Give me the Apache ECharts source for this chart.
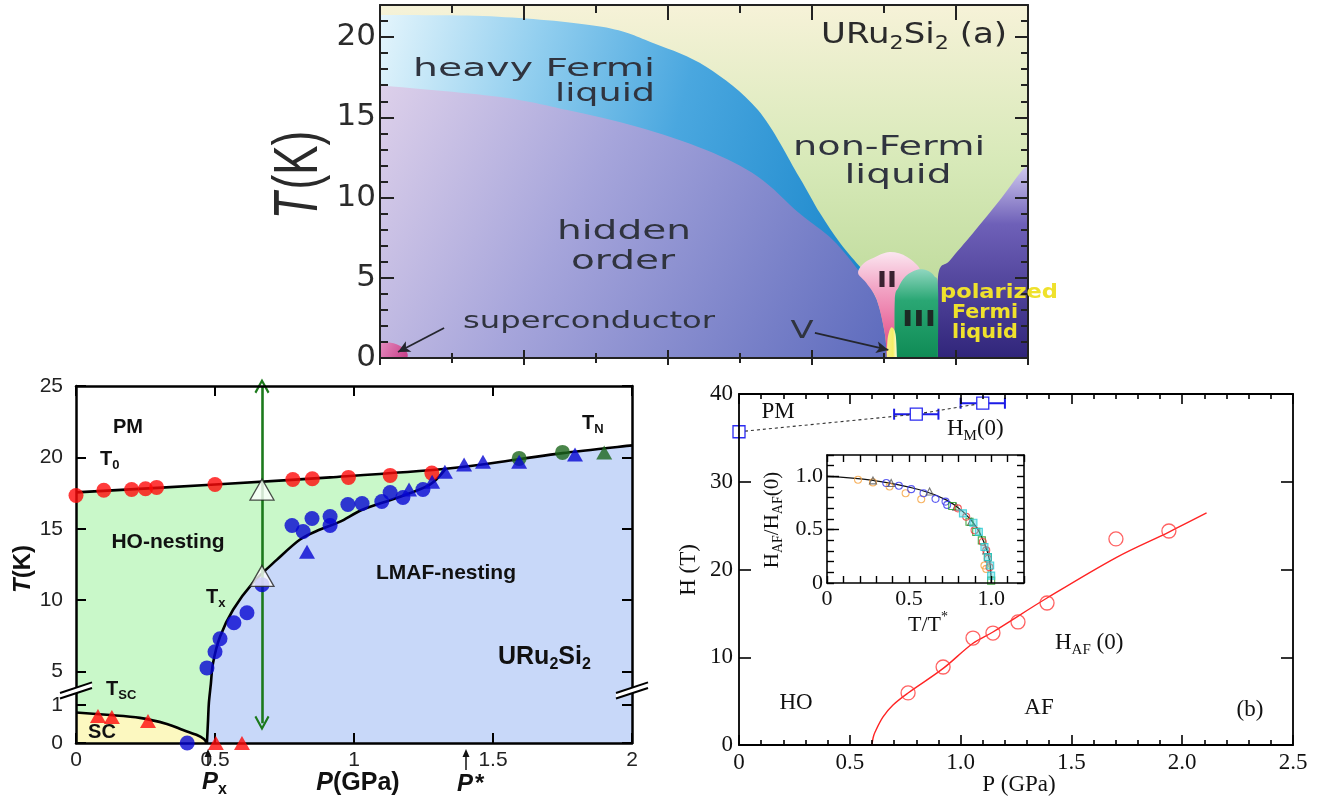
<!DOCTYPE html>
<html>
<head>
<meta charset="utf-8">
<title>URu2Si2 phase diagrams</title>
<script src="https://cdn.jsdelivr.net/npm/echarts@6.0.0/dist/echarts.min.js"></script>
<style>
  html, body { margin: 0; padding: 0; background: #ffffff; }
  #chart { width: 1318px; height: 803px; }
</style>
</head>
<body>
<div id="chart"></div>
<script>
// ---------------------------------------------------------------------------
// Panel (a): schematic T–p phase diagram (pressure in arbitrary units 0–9, T in K)
// ---------------------------------------------------------------------------
const aHeavyFermiTop = [[0,21.37],[1.64,21.27],[3.08,20.64],[3.81,19.6],[4.53,18.15],[5.25,15.45],[5.82,11.3],[6.11,9.03],[6.39,7.17],[6.67,5.67]];
const aHiddenOrderTop = [[0,17.0],[1.64,16.28],[2.6,15.45],[3.57,14.41],[4.53,12.96],[5.25,11.3],[5.82,9.03],[6.29,7.35],[6.67,5.3],[6.9,3.61],[7.01,1.56],[7.04,0]];
const aPhaseII = [[7.04,0],[7.01,1.56],[6.9,3.61],[6.75,4.7],[6.64,5.3],[6.72,5.9],[6.85,6.23],[7.08,6.6],[7.32,6.3],[7.5,5.48],[7.3,5.0],[7.19,4.05],[7.15,2.5],[7.15,0]];
const aPhaseIII = [[7.15,0],[7.15,3.6],[7.2,4.4],[7.3,5.1],[7.46,5.5],[7.6,5.45],[7.7,5.1],[7.75,4.4],[7.75,0]];
const aPhaseV = [[7.04,0],[7.05,1.2],[7.1,1.9],[7.16,1.5],[7.18,0]];
const aPolarizedEdge = [[7.75,0],[7.75,5.05],[7.92,6.1],[8.24,7.8],[8.61,9.84],[8.92,11.7],[9,11.9]];
const aSuperconductor = [[0,0.9],[0.15,0.95],[0.3,0.7],[0.38,0.3],[0.38,0]];
const aArrowSC = [[0.89,1.87],[0.25,0.37]];
const aArrowV = [[6.04,1.56],[7.06,0.5]];

// ---------------------------------------------------------------------------
// Panel (c): T–P diagram, P in GPa, T in K (split temperature axis)
// ---------------------------------------------------------------------------
const cT0Points = [[0,17.33],[0.10,17.7],[0.20,17.75],[0.25,17.8],[0.29,17.9],[0.50,18.1],[0.78,18.45],[0.85,18.5],[0.98,18.6],[1.13,18.74],[1.28,18.9]];
const cTxPoints = [[0.40,0],[0.471,5.26],[0.50,6.39],[0.518,7.3],[0.568,8.42],[0.615,9.12],[0.669,11.09],[0.777,15.23],[0.817,14.81],[0.849,15.72],[0.914,15.86],[0.914,15.23],[0.978,16.70],[1.029,16.77],[1.10,16.91],[1.13,17.54],[1.176,17.19],[1.248,17.75]];
const cTNBlueTriangles = [[0.831,13.4],[1.198,17.75],[1.281,18.3],[1.327,19.0],[1.396,19.5],[1.464,19.7],[1.594,19.7],[1.795,20.2]];
const cTNGreenCircles = [[1.594,19.93],[1.75,20.35]];
const cTNGreenTriangles = [[1.90,20.35]];
const cTscTriangles = [[0.079,0.71],[0.129,0.68],[0.259,0.58],[0.503,0],[0.597,0]];
const cOpenTriangles = [[0.669,17.75],[0.669,11.7]];
const cUpperLine = [[0,17.55],[0.5,18.1],[0.914,18.6],[1.33,19.2],[1.586,19.85],[1.75,20.3],[2.0,20.84]];
const cTxLine = [[0.471,0],[0.475,0.6],[0.478,1.24],[0.485,3.5],[0.493,5.61],[0.518,7.44],[0.565,9.33],[0.637,11.23],[0.723,12.84],[0.806,14.25],[0.878,14.95],[0.95,15.5],[1.032,16.35],[1.155,17.17],[1.273,18.1],[1.33,19.2]];
const cScLine = [[0,0.80],[0.11,0.74],[0.23,0.66],[0.327,0.50],[0.385,0.34],[0.435,0.21],[0.46,0.105],[0.471,0]];
const cArrowP = 0.669;
const cArrowT = [25, 0.52];
const cYTickLabels = [0, 1, 5, 10, 15, 20, 25];

// ---------------------------------------------------------------------------
// Panel (b): H–P diagram, P in GPa, H in T; inset H_AF/H_AF(0) vs T/T*
// ---------------------------------------------------------------------------
const bHMPoints = [[0,35.7],[0.80,37.7],[1.10,38.95]];
const bHMErrors = [[0.80,37.7,0.70,0.90],[1.10,38.95,1.00,1.20]];
const bHAFPoints = [[0.763,5.93],[0.921,8.89],[1.056,12.19],[1.146,12.76],[1.259,14.02],[1.39,16.18],[1.701,23.48],[1.94,24.39]];
const bHAFLine = [[0.60,0],[0.605,0.8],[0.614,1.48],[0.65,3.2],[0.695,4.56],[0.763,5.93],[0.92,8.7],[1.056,11.6],[1.146,12.88],[1.39,16.75],[1.706,21.42],[1.94,24.27],[2.11,26.44]];
const insetCurve = [[0,1.0],[0.28,0.962],[0.564,0.874],[0.726,0.779],[0.828,0.669],[0.909,0.527],[0.959,0.369],[0.99,0.211],[1.0,0]];
const insetOrange = [[0.189,0.968],[0.28,0.943],[0.381,0.905],[0.479,0.842],[0.574,0.785],[0.959,0.164],[0.97,0.132]];
const insetBlue = [[0.361,0.937],[0.438,0.912],[0.513,0.88],[0.588,0.842],[0.661,0.789],[0.722,0.763],[0.732,0.732]];
const insetGray = [[0.28,0.962],[0.391,0.937],[0.625,0.858],[0.787,0.716],[0.878,0.574],[0.97,0.306]];
const insetGreen = [[0.763,0.722],[0.868,0.574],[0.909,0.479],[0.943,0.4],[0.98,0.243],[1.0,0.022]];
const insetRed = [[0.797,0.7],[0.848,0.621],[0.899,0.495],[0.949,0.385],[0.97,0.306],[0.98,0.227],[0.99,0.148]];
const insetCyan = [[0.828,0.653],[0.892,0.565],[0.925,0.479],[0.959,0.338],[0.98,0.243],[0.994,0.164],[1.0,0.069]];

// ---------------------------------------------------------------------------
// helpers
// ---------------------------------------------------------------------------
// split T axis of panel (c): 0–1 K expanded, 1–5 K compressed, linear above 5 K
const LOW_SCALE = 2.67;
function tDisp(t) {
  if (t >= 5) return t;
  if (t <= 1) return t * LOW_SCALE;
  return LOW_SCALE + (t - 1) * (5 - LOW_SCALE) / 4;
}
const toDisp = arr => arr.map(([p, t]) => [p, tDisp(t)]);
const cYTickDisp = cYTickLabels.map(tDisp);

function catmull(p) {
  let d = '';
  for (let i = 0; i < p.length - 1; i++) {
    const p0 = p[i - 1] || p[i], p1 = p[i], p2 = p[i + 1], p3 = p[i + 2] || p[i + 1];
    const c1 = [p1[0] + (p2[0] - p0[0]) / 6, p1[1] + (p2[1] - p0[1]) / 6];
    const c2 = [p2[0] - (p3[0] - p1[0]) / 6, p2[1] - (p3[1] - p1[1]) / 6];
    d += `C${c1[0].toFixed(2)},${c1[1].toFixed(2)} ${c2[0].toFixed(2)},${c2[1].toFixed(2)} ${p2[0].toFixed(2)},${p2[1].toFixed(2)}`;
  }
  return d;
}
function buildPath(segs, toPx, closed) {
  let d = '';
  segs.forEach((seg, k) => {
    const p = seg.pts.map(toPx);
    d += (k === 0 ? 'M' : 'L') + p[0][0].toFixed(2) + ',' + p[0][1].toFixed(2);
    if (seg.smooth && p.length > 2) d += catmull(p);
    else for (let i = 1; i < p.length; i++) d += 'L' + p[i][0].toFixed(2) + ',' + p[i][1].toFixed(2);
  });
  return closed ? d + 'Z' : d;
}
function pathSeries(xi, yi, segs, style, z, closed) {
  return {
    type: 'custom', xAxisIndex: xi, yAxisIndex: yi, silent: true, z: z, clip: true,
    data: [[0, 0]],
    renderItem: (params, api) => ({
      type: 'path',
      shape: { pathData: buildPath(segs, pt => api.coord(pt), closed) },
      style: style
    })
  };
}
const grad = (x0, y0, x1, y1, stops) =>
  new echarts.graphic.LinearGradient(x0, y0, x1, y1, stops.map(([o, c]) => ({ offset: o, color: c })));

// text helpers
const measureCtx = document.createElement('canvas').getContext('2d');
function textW(str, font) { measureCtx.font = font; return measureCtx.measureText(str).width; }

function plainText(str, x, y, o) {
  const el = {
    type: 'text', x: x, y: y, z: 100, silent: true,
    style: { text: str, font: o.font, fill: o.fill || '#000', align: o.align || 'center', verticalAlign: 'middle',
             textAlign: o.align || 'center', textVerticalAlign: 'middle' }
  };
  if (o.width) el.scaleX = o.width / textW(str, o.font);
  if (o.scaleX) el.scaleX = o.scaleX;
  if (o.rotation) el.rotation = o.rotation;
  if (o.scaleY) el.scaleY = o.scaleY;
  return el;
}
// a line of text pieces laid out left to right:
// key m = main, i = italic main, s = subscript, u = superscript
function compText(parts, x, y, o) {
  const F = o.size, f = Math.round(F * (o.subRatio || 0.65));
  const wt = o.weight || 'normal', fill = o.fill || '#000';
  const fontOf = k => (k === 'i' ? 'italic ' : 'normal ') + wt + ' ' + ((k === 's' || k === 'u') ? f : F) + 'px ' + o.family;
  let cursor = 0;
  const kids = parts.map(([t, k]) => {
    const font = fontOf(k);
    const dy = k === 's' ? 0.3 * F : (k === 'u' ? -0.36 * F : 0);
    const el = {
      type: 'text', x: cursor, y: dy, z: 100, silent: true,
      style: { text: t, font: font, fill: fill, align: 'left', verticalAlign: 'middle', textAlign: 'left', textVerticalAlign: 'middle' }
    };
    cursor += textW(t, font) + (o.gap || 0);
    return el;
  });
  const W = cursor - (o.gap || 0);
  const off = o.align === 'left' ? 0 : -W / 2;
  kids.forEach(k => { k.x += off; });
  const g = { type: 'group', x: x, y: y, z: 100, silent: true, children: kids };
  if (o.width) g.scaleX = o.width / W;
  if (o.scaleX) g.scaleX = o.scaleX;
  if (o.scaleY) g.scaleY = o.scaleY;
  if (o.rotation) g.rotation = o.rotation;
  return g;
}
function arrowUp(x, yTop, yBot, color) {
  return [
    { type: 'line', z: 100, silent: true, shape: { x1: x, y1: yBot, x2: x, y2: yTop + 4 }, style: { stroke: color, lineWidth: 1.5 } },
    { type: 'polygon', z: 100, silent: true, shape: { points: [[x, yTop], [x - 3.5, yTop + 8], [x + 3.5, yTop + 8]] }, style: { fill: color } }
  ];
}

// ---------------------------------------------------------------------------
// axes
// ---------------------------------------------------------------------------
function lineSt(color, width) { return { color: color, width: width }; }
function ax(o) {
  const a = {
    type: 'value', gridIndex: o.grid, position: o.position, min: o.min, max: o.max, z: 10,
    axisLine: { show: o.line !== false, onZero: false, lineStyle: lineSt(o.color, o.lw) },
    axisTick: { show: o.tick !== false, inside: o.inside !== false, length: o.tickLen || 8, lineStyle: lineSt(o.color, o.tw || o.lw) },
    minorTick: { show: !!o.minor, splitNumber: o.minor || 5, length: o.minorLen || 4, lineStyle: lineSt(o.color, o.tw || o.lw) },
    axisLabel: { show: !!o.label },
    splitLine: { show: false }, minorSplitLine: { show: false }
  };
  if (o.interval != null) a.interval = o.interval;
  if (o.tickValues) a.axisTick.customValues = o.tickValues;
  if (o.label) Object.assign(a.axisLabel, o.label);
  return a;
}

const serif = 'Liberation Serif';
const sans = 'Liberation Sans';
const dv = 'DejaVu Sans';
const inset01 = v => (Math.abs(v) < 1e-9 ? '0' : v.toFixed(1));

const xAxis = [
  // (a)
  ax({ grid: 0, position: 'bottom', min: 0, max: 9, interval: 2, minor: 2, color: '#222', lw: 2, tickLen: 8, minorLen: 5 }),
  ax({ grid: 0, position: 'bottom', min: 0, max: 9, interval: 2, minor: 2, color: '#222', lw: 2, line: false, inside: false, tickLen: 7, minorLen: 5 }),
  ax({ grid: 0, position: 'top', min: 0, max: 9, interval: 2, minor: 2, color: '#222', lw: 2, tickLen: 15, minorLen: 8 }),
  // (c)
  ax({ grid: 1, position: 'bottom', min: 0, max: 2, interval: 0.5, color: '#000', lw: 2.5, tw: 2, tickLen: 10,
       label: { fontFamily: sans, fontSize: 21, color: '#222', margin: 7 } }),
  ax({ grid: 1, position: 'top', min: 0, max: 2, interval: 0.5, color: '#000', lw: 2.5, tw: 2, tickLen: 10 }),
  // (b)
  ax({ grid: 2, position: 'bottom', min: 0, max: 2.5, interval: 0.5, minor: 5, color: '#000', lw: 1.8, tw: 1.6, tickLen: 10, minorLen: 5,
       label: { fontFamily: serif, fontSize: 23, color: '#111', margin: 6, formatter: v => (v === 0 ? '0' : v.toFixed(1)) } }),
  ax({ grid: 2, position: 'top', min: 0, max: 2.5, interval: 0.5, minor: 5, color: '#000', lw: 1.8, tw: 1.6, tickLen: 10, minorLen: 5 }),
  // inset
  ax({ grid: 3, position: 'bottom', min: 0, max: 1.2, interval: 0.1, color: '#000', lw: 1.6, tw: 1.4, tickLen: 7,
       label: { fontFamily: serif, fontSize: 22, color: '#111', margin: 5, customValues: [0, 0.5, 1.0], formatter: inset01 } }),
  ax({ grid: 3, position: 'top', min: 0, max: 1.2, interval: 0.1, color: '#000', lw: 1.6, tw: 1.4, tickLen: 7 })
];

const yAxis = [
  // (a)
  ax({ grid: 0, position: 'left', min: 0, max: 22, interval: 5, minor: 5, color: '#222', lw: 2, tickLen: 14, minorLen: 8,
       label: { fontFamily: dv, fontSize: 31, color: '#2b2b2b', margin: 4, showMaxLabel: false } }),
  ax({ grid: 0, position: 'right', min: 0, max: 22, interval: 5, minor: 5, color: '#222', lw: 2, tickLen: 13, minorLen: 7 }),
  // (c)
  ax({ grid: 1, position: 'left', min: 0, max: 25, color: '#000', lw: 2.5, tw: 2, tickLen: 10, tickValues: cYTickDisp,
       label: { fontFamily: sans, fontSize: 21, color: '#222', margin: 13, customValues: cYTickDisp,
                formatter: v => { let k = 0; cYTickDisp.forEach((d, i) => { if (Math.abs(d - v) < Math.abs(cYTickDisp[k] - v)) k = i; }); return String(cYTickLabels[k]); } } }),
  ax({ grid: 1, position: 'right', min: 0, max: 25, color: '#000', lw: 2.5, tw: 2, tickLen: 10, tickValues: cYTickDisp }),
  // (b)
  ax({ grid: 2, position: 'left', min: 0, max: 40, interval: 10, color: '#000', lw: 1.8, tw: 1.6, tickLen: 12,
       label: { fontFamily: serif, fontSize: 23, color: '#111', margin: 6 } }),
  ax({ grid: 2, position: 'right', min: 0, max: 40, interval: 10, color: '#000', lw: 1.8, tw: 1.6, tickLen: 12 }),
  // inset
  ax({ grid: 3, position: 'left', min: 0, max: 1.2, interval: 0.1, color: '#000', lw: 1.6, tw: 1.4, tickLen: 7,
       label: { fontFamily: serif, fontSize: 22, color: '#111', margin: 4, customValues: [0, 0.5, 1.0], formatter: inset01 } }),
  ax({ grid: 3, position: 'right', min: 0, max: 1.2, interval: 0.1, color: '#000', lw: 1.6, tw: 1.4, tickLen: 7 }),
  ax({ grid: 3, position: 'left', min: 0, max: 1.2, color: '#000', lw: 1.6, tw: 1.4, tickLen: 12, line: false, tickValues: [0.5, 1.0] })
];

// ---------------------------------------------------------------------------
// series
// ---------------------------------------------------------------------------
const series = [];

// (a) phase regions, drawn back to front
series.push(pathSeries(0, 0, [{ pts: [[0, 0], [0, 22], [9, 22], [9, 0]] }],
  { fill: grad(0, 0, 0, 1, [[0, '#f6f2d8'], [0.45, '#d7e9b8'], [1, '#b3d48e']]) }, 1, true));
series.push(pathSeries(0, 0, [{ pts: aHeavyFermiTop, smooth: true }, { pts: [[6.9, 3.61], [7.04, 0], [0, 0]] }],
  { fill: grad(0, 0, 1, 0.4, [[0, '#e4f5fc'], [0.3, '#93cfef'], [0.6, '#4aa7df'], [1, '#1c88cc']]) }, 1, true));
series.push(pathSeries(0, 0, [{ pts: [[0, 0]] }, { pts: aHiddenOrderTop, smooth: true }],
  { fill: grad(0, 0, 1, 1, [[0, '#ddd0ea'], [0.4, '#a6a5db'], [1, '#5d6bbd']]) }, 1, true));
series.push(pathSeries(0, 0, [{ pts: aPolarizedEdge, smooth: true }, { pts: [[9, 0]] }],
  { fill: grad(0, 0, 0, 1, [[0, '#cfc8ee'], [0.3, '#6e60b8'], [1, '#30257a']]) }, 1, true));
series.push(pathSeries(0, 0, [{ pts: aPhaseII, smooth: true }],
  { fill: grad(0, 0, 0, 1, [[0, '#fbe6f0'], [0.35, '#f2a3c4'], [1, '#e2407f']]) }, 1, true));
series.push(pathSeries(0, 0, [{ pts: aPhaseIII, smooth: true }],
  { fill: grad(0, 0, 0, 1, [[0, '#8fd6bf'], [0.35, '#2aa774'], [1, '#0f8b55']]) }, 1, true));
series.push(pathSeries(0, 0, [{ pts: aPhaseV, smooth: true }],
  { fill: grad(0, 0, 1, 0, [[0, '#f6f08a'], [0.6, '#f4ee66'], [1, '#fdfbe0']]) }, 1, true));
series.push(pathSeries(0, 0, [{ pts: [[0, 0]] }, { pts: aSuperconductor, smooth: true }],
  { fill: grad(0, 0, 1, 1, [[0, '#e58cbf'], [1, '#c63d87']]) }, 1, true));
// (a) pointer arrows
series.push({
  type: 'line', xAxisIndex: 0, yAxisIndex: 0, data: [], z: 5, silent: true,
  markLine: {
    silent: true, symbol: ['none', 'arrow'], symbolSize: [9, 12], animation: false,
    label: { show: false },
    lineStyle: { color: '#24262e', width: 1.8, type: 'solid' },
    itemStyle: { color: '#24262e' },
    data: [
      [{ coord: aArrowSC[0] }, { coord: aArrowSC[1] }],
      [{ coord: aArrowV[0] }, { coord: aArrowV[1] }]
    ]
  }
});

// (c) phase regions
const cUpperLeft = cUpperLine.filter(p => p[0] <= 1.33);
const cUpperRight = cUpperLine.filter(p => p[0] >= 1.33);
series.push(pathSeries(3, 2, [{ pts: [[0, 0]] }, { pts: toDisp(cUpperLeft), smooth: true }, { pts: toDisp(cTxLine.slice().reverse()), smooth: true }],
  { fill: '#c9f8c9' }, 1, true));
series.push(pathSeries(3, 2, [{ pts: toDisp(cTxLine), smooth: true }, { pts: toDisp(cUpperRight), smooth: true }, { pts: [[2, 0]] }],
  { fill: '#c8d8f9' }, 1, true));
series.push(pathSeries(3, 2, [{ pts: [[0, 0]] }, { pts: toDisp(cScLine), smooth: true }],
  { fill: '#fcf8c0' }, 1, true));
// (c) phase boundaries
[cUpperLine, cTxLine, cScLine].forEach(line => {
  series.push(pathSeries(3, 2, [{ pts: toDisp(line), smooth: true }],
    { fill: 'none', stroke: '#000', lineWidth: 2.6, lineJoin: 'round' }, 3, false));
});
// (c) vertical double arrow
series.push({
  type: 'line', xAxisIndex: 3, yAxisIndex: 2, data: [], z: 4, silent: true,
  markLine: {
    silent: true, animation: false,
    symbol: ['path://M10,0 L20,15 L17.6,16.6 L10,5 L2.4,16.6 L0,15 Z', 'path://M10,0 L20,15 L17.6,16.6 L10,5 L2.4,16.6 L0,15 Z'],
    symbolSize: [15, 15], symbolOffset: [0, 0],
    label: { show: false },
    lineStyle: { color: '#1c7a1c', width: 2.6, type: 'solid' },
    itemStyle: { color: '#1c7a1c' },
    data: [[{ coord: [cArrowP, tDisp(cArrowT[0])] }, { coord: [cArrowP, tDisp(cArrowT[1])] }]]
  }
});
// (c) axis break marks (display position between 1 K and 5 K)
const cBreakDisp = 3.7;
series.push({
  type: 'custom', xAxisIndex: 3, yAxisIndex: 2, silent: true, z: 20, clip: false,
  data: [[0, cBreakDisp], [2, cBreakDisp]],
  renderItem: (params, api) => {
    const c = api.coord([api.value(0), api.value(1)]);
    const x = c[0], y = c[1];
    return {
      type: 'group', children: [
        { type: 'polygon', shape: { points: [[x - 16, y + 2.8], [x + 16, y - 7.8], [x + 16, y - 2.2], [x - 16, y + 8.4]] }, style: { fill: '#fff' } },
        { type: 'line', shape: { x1: x - 16, y1: y + 2.8, x2: x + 16, y2: y - 7.8 }, style: { stroke: '#000', lineWidth: 2 } },
        { type: 'line', shape: { x1: x - 16, y1: y + 8.4, x2: x + 16, y2: y - 2.2 }, style: { stroke: '#000', lineWidth: 2 } }
      ]
    };
  }
});
// (c) data points
function scat(xi, yi, data, symbol, size, style, z) {
  return { type: 'scatter', xAxisIndex: xi, yAxisIndex: yi, data: data, symbol: symbol, symbolSize: size,
           itemStyle: style, z: z || 12, silent: true, clip: false };
}
series.push(scat(3, 2, toDisp(cT0Points), 'circle', 15, { color: '#ff0a0a' }));
series.push(scat(3, 2, toDisp(cTxPoints), 'circle', 15, { color: '#0606d2' }));
series.push(scat(3, 2, toDisp(cTNGreenCircles), 'circle', 15, { color: '#1b661b' }));
series.push(scat(3, 2, toDisp(cTNGreenTriangles), 'triangle', [16, 14], { color: '#1b661b' }));
series.push(scat(3, 2, toDisp(cTNBlueTriangles), 'triangle', [16, 14], { color: '#0606d2' }));
series.push(scat(3, 2, toDisp(cTscTriangles), 'triangle', [16, 14], { color: '#ff0a0a' }));
series.push(scat(3, 2, toDisp(cOpenTriangles), 'triangle', [24, 21], { color: '#ffffff', borderColor: '#222', borderWidth: 1.3 }, 14));

// (b) metamagnetic field H_M(0)
series.push({
  type: 'custom', xAxisIndex: 5, yAxisIndex: 4, silent: true, z: 5,
  data: bHMErrors,
  renderItem: (params, api) => {
    const lo = api.coord([api.value(2), api.value(1)]);
    const hi = api.coord([api.value(3), api.value(1)]);
    const st = { stroke: '#1b1be6', lineWidth: 2 };
    return {
      type: 'group', children: [
        { type: 'line', shape: { x1: lo[0], y1: lo[1], x2: hi[0], y2: hi[1] }, style: st },
        { type: 'line', shape: { x1: lo[0], y1: lo[1] - 5.5, x2: lo[0], y2: lo[1] + 5.5 }, style: st },
        { type: 'line', shape: { x1: hi[0], y1: hi[1] - 5.5, x2: hi[0], y2: hi[1] + 5.5 }, style: st }
      ]
    };
  }
});
series.push({
  type: 'line', xAxisIndex: 5, yAxisIndex: 4, data: bHMPoints, z: 6, silent: true, clip: false,
  symbol: 'rect', symbolSize: 12, showSymbol: true,
  lineStyle: { color: '#333', width: 1.1, type: [3, 3] },
  itemStyle: { color: '#ffffff', borderColor: '#2b2bf0', borderWidth: 1.3 }
});
// (b) antiferromagnetic field H_AF(0)
series.push({
  type: 'line', xAxisIndex: 5, yAxisIndex: 4, data: bHAFLine, z: 5, silent: true,
  smooth: 0.35, showSymbol: false, lineStyle: { color: '#ff2424', width: 1.4 }
});
series.push(scat(5, 4, bHAFPoints, 'circle', 14, { color: 'rgba(255,255,255,0)', borderColor: '#ff3b3b', borderWidth: 1.3 }, 6));

// inset scaling
series.push({
  type: 'line', xAxisIndex: 7, yAxisIndex: 6, data: insetCurve, z: 7, silent: true,
  smooth: 0.4, showSymbol: false, lineStyle: { color: '#111', width: 1.2 }
});
const hollow = c => ({ color: 'rgba(255,255,255,0)', borderColor: c, borderWidth: 1.1 });
series.push(scat(7, 6, insetOrange, 'circle', 7, hollow('#f5a03c'), 8));
series.push(scat(7, 6, insetBlue, 'circle', 7, hollow('#3636ee'), 8));
series.push(scat(7, 6, insetGray, 'triangle', 7, hollow('#555555'), 8));
series.push(scat(7, 6, insetGreen, 'rect', 7, hollow('#1a961a'), 8));
series.push(scat(7, 6, insetRed, 'circle', 7, hollow('#ee3535'), 8));
series.push(scat(7, 6, insetCyan, 'rect', 7, { color: 'rgba(70,215,225,0.55)', borderColor: '#28c8d2', borderWidth: 1.1 }, 8));

// ---------------------------------------------------------------------------
// annotations
// ---------------------------------------------------------------------------
const aInk = '#30343f';
const graphic = [
  // (a)
  compText([['URu', 'm'], ['2', 's'], ['Si', 'm'], ['2', 's'], [' (a)', 'm']], 914, 35, { size: 29, family: dv, fill: '#2a2a2a', width: 186 }),
  plainText('heavy Fermi', 534, 69, { font: '25px ' + dv, fill: aInk, width: 242 }),
  plainText('liquid', 605, 94, { font: '25px ' + dv, fill: aInk, width: 100 }),
  plainText('non-Fermi', 889, 148, { font: '27px ' + dv, fill: aInk, width: 192 }),
  plainText('liquid', 898, 176, { font: '27px ' + dv, fill: aInk, width: 107 }),
  plainText('hidden', 624, 232, { font: '27px ' + dv, fill: aInk, width: 134 }),
  plainText('order', 623, 262, { font: '27px ' + dv, fill: aInk, width: 104 }),
  plainText('superconductor', 589, 322, { font: '23px ' + dv, fill: aInk, width: 252 }),
  plainText('V', 802, 331, { font: '25px ' + dv, fill: aInk, scaleX: 1.35 }),
  plainText('II', 887, 281, { font: 'bold 22px ' + dv, fill: '#3a2230', width: 20 }),
  plainText('III', 919, 320, { font: 'bold 22px ' + dv, fill: '#1d2a24', width: 34 }),
  plainText('polarized', 999, 293, { font: 'bold 19px ' + dv, fill: '#efe12c', width: 118 }),
  plainText('Fermi', 985, 313, { font: 'bold 19px ' + dv, fill: '#efe12c', width: 66 }),
  plainText('liquid', 985, 333, { font: 'bold 19px ' + dv, fill: '#efe12c', width: 66 }),
  compText([['T', 'i'], ['(K)', 'm']], 299, 175, { size: 44, family: sans, fill: '#2a2a2a', rotation: Math.PI / 2, scaleY: 1.45, gap: 3 }),

  // (c)
  plainText('PM', 128, 427, { font: 'bold 20px ' + sans, fill: '#111' }),
  compText([['T', 'm'], ['0', 's']], 100, 459, { size: 20, family: sans, weight: 'bold', fill: '#111', align: 'left' }),
  plainText('HO-nesting', 168, 542, { font: 'bold 21px ' + sans, fill: '#111' }),
  compText([['T', 'm'], ['x', 's']], 206, 597, { size: 20, family: sans, weight: 'bold', fill: '#111', align: 'left' }),
  plainText('LMAF-nesting', 446, 573, { font: 'bold 21px ' + sans, fill: '#111' }),
  compText([['URu', 'm'], ['2', 's'], ['Si', 'm'], ['2', 's']], 498, 657, { size: 25, family: sans, weight: 'bold', fill: '#111', align: 'left' }),
  compText([['T', 'm'], ['N', 's']], 582, 423, { size: 20, family: sans, weight: 'bold', fill: '#111', align: 'left' }),
  compText([['T', 'm'], ['SC', 's']], 106, 689, { size: 20, family: sans, weight: 'bold', fill: '#111', align: 'left' }),
  plainText('SC', 102, 732, { font: 'bold 20px ' + sans, fill: '#111' }),
  compText([['T', 'i'], ['(K)', 'm']], 23, 569, { size: 24, family: sans, weight: 'bold', fill: '#111', rotation: Math.PI / 2 }),
  compText([['P', 'i'], ['(GPa)', 'm']], 358, 783, { size: 25, family: sans, weight: 'bold', fill: '#111' }),
  compText([['P', 'i'], ['x', 's']], 202, 782, { size: 24, family: sans, weight: 'bold', fill: '#111', align: 'left' }),
  compText([['P', 'i'], ['*', 'm']], 457, 784, { size: 24, family: sans, weight: 'bold', fill: '#111', align: 'left', gap: 2 }),
  ...arrowUp(208, 749, 766, '#111'),
  ...arrowUp(466, 749, 770, '#111'),

  // (b)
  plainText('PM', 778, 412, { font: '23px ' + serif, fill: '#111' }),
  compText([['H', 'm'], ['M', 's'], ['(0)', 'm']], 947, 429, { size: 23, family: serif, fill: '#111', align: 'left' }),
  compText([['H', 'm'], ['AF', 's'], [' (0)', 'm']], 1055, 643, { size: 23, family: serif, fill: '#111', align: 'left' }),
  plainText('HO', 796, 703, { font: '23px ' + serif, fill: '#111' }),
  plainText('AF', 1039, 708, { font: '23px ' + serif, fill: '#111' }),
  plainText('(b)', 1250, 710, { font: '23px ' + serif, fill: '#111' }),
  plainText('H (T)', 689, 570, { font: '23px ' + serif, fill: '#111', rotation: Math.PI / 2 }),
  plainText('P (GPa)', 1019, 785, { font: '23px ' + serif, fill: '#111' }),
  compText([['H', 'm'], ['AF', 's'], ['/H', 'm'], ['AF', 's'], ['(0)', 'm']], 772, 520, { size: 21, family: serif, fill: '#111', rotation: Math.PI / 2 }),
  compText([['T/T', 'm'], ['*', 'u']], 928, 625, { size: 22, family: serif, fill: '#111' })
];

const chart = echarts.init(document.getElementById('chart'), null, { renderer: 'canvas' });
chart.setOption({
  animation: false,
  backgroundColor: '#ffffff',
  textStyle: { fontFamily: sans },
  grid: [
    { left: 380, top: 5, width: 648, height: 353, outerBoundsMode: 'none' },
    { left: 76, top: 386, width: 556, height: 357, outerBoundsMode: 'none' },
    { left: 739, top: 394, width: 554, height: 351, outerBoundsMode: 'none' },
    { left: 827, top: 455, width: 197, height: 128, outerBoundsMode: 'none' }
  ],
  xAxis: xAxis,
  yAxis: yAxis,
  series: series,
  graphic: { elements: graphic }
});
</script>
</body>
</html>
